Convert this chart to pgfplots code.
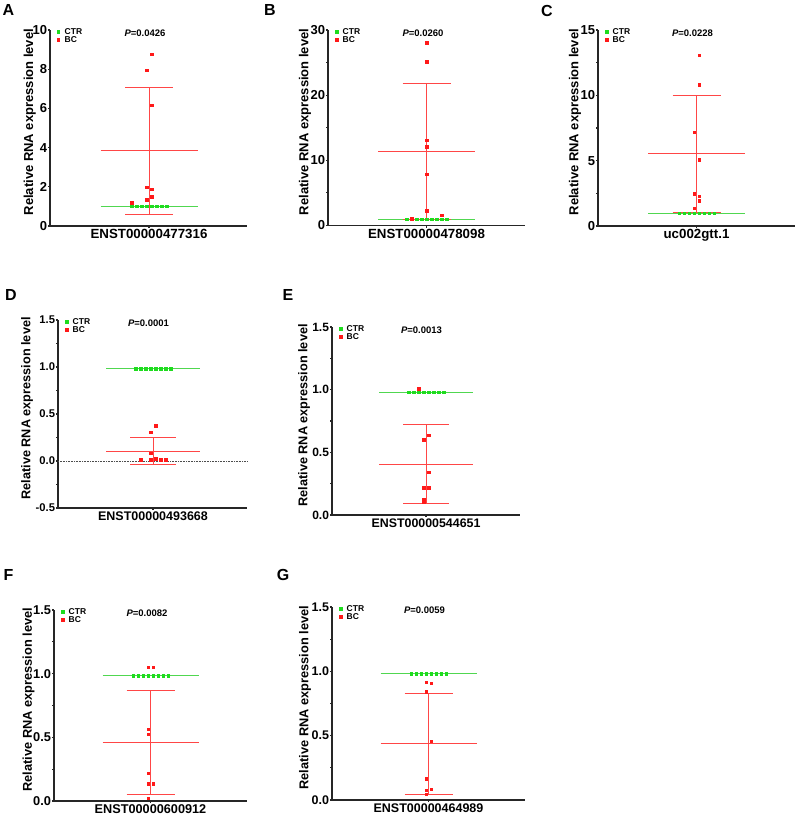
\documentclass[border=0pt]{standalone}
\usepackage{fontspec}
\setmainfont{Liberation Sans}
\usepackage{pgfplots}
\pgfplotsset{compat=1.18}
\definecolor{ctrg}{RGB}{30,220,30}
\definecolor{bcr}{RGB}{255,25,25}
\definecolor{gl}{RGB}{80,215,80}
\definecolor{rl}{RGB}{255,70,70}
\pgfplotsset{
  panel/.style={
    scale only axis, clip=false,
    axis x line=bottom, axis y line=left,
    axis line style={line width=1.2pt, black!85, -},
    every tick/.style={line width=1.1pt, black!85},
    major tick length=2.2pt, minor tick length=1.6pt,
    tick align=outside,
    xmin=0,
    /pgf/number format/assume math mode=true,
    yticklabel style={font=\fontsize{13}{13}\selectfont\bfseries, inner sep=0.6pt},
    xticklabel style={font=\fontsize{13.3}{14}\selectfont\bfseries, inner sep=1pt},
    ylabel={Relative RNA expression level},
    ylabel style={font=\fontsize{13}{14}\selectfont\bfseries, inner sep=0pt, anchor=south},
    legend style={at={(axis description cs:0,1)}, anchor=north west, xshift=7pt, yshift=3pt,
      draw=none, fill=none, font=\fontsize{8.5}{9}\selectfont\bfseries, inner sep=0pt,
      row sep=-1.5pt, nodes={inner sep=1pt},
      /tikz/every odd column/.append style={column sep=4pt}},
    legend cell align=left,
    legend image code/.code={\draw[mark repeat=2,mark phase=2,##1] plot coordinates {(0pt,0pt)(4pt,0pt)(8pt,0pt)};},
  },
  fs/.style n args={3}{
    yticklabel style={font=\fontsize{#1}{#1}\selectfont\bfseries},
    xticklabel style={font=\fontsize{#2}{#2}\selectfont\bfseries},
    ylabel style={font=\fontsize{#3}{#3}\selectfont\bfseries}},
  dec1/.style={yticklabel style={/pgf/number format/fixed, /pgf/number format/fixed zerofill, /pgf/number format/precision=1}},
  ctr/.style={only marks, mark=square*, mark size=1.25pt, color=ctrg},
  bc/.style={only marks, mark=square*, mark size=1.25pt, color=bcr},
  gline/.style={gl, line width=1pt, forget plot},
  rline/.style={rl, line width=1pt, forget plot},
}
\newcommand{\pval}[3]{\node[anchor=north, inner sep=0pt, font=\fontsize{9.5}{10}\selectfont\bfseries] at (axis cs:#1,#2) {\textit{P}=#3};}
\begin{document}
\begin{tikzpicture}
\path (0pt,0pt) rectangle (798pt,-818pt);
\tikzset{lab/.style={font=\fontsize{16}{16}\selectfont\bfseries, inner sep=0pt}}
\node[lab] at (8.5pt,-10.5pt) {A};
\node[lab] at (270pt,-10.5pt) {B};
\node[lab] at (547pt,-10.5pt) {C};
\node[lab] at (11pt,-295pt) {D};
\node[lab] at (288pt,-295pt) {E};
\node[lab] at (8.5pt,-575pt) {F};
\node[lab] at (283pt,-575pt) {G};

% ---------------- A
\begin{axis}[panel, at={(50pt,-226pt)}, anchor=south west, width=197pt, height=196pt,
  xmax=197, ymin=0, ymax=10, ytick={0,2,4,6,8,10},
  xtick={99}, xticklabels={ENST00000477316},
  ylabel style={at={(axis description cs:-0.0711,0.53)}}]
\addplot[gline] coordinates {(50.5,1) (147.5,1)};
\addplot[rline] coordinates {(50.5,3.84) (147.5,3.84)};
\addplot[rline] coordinates {(99,0.61) (99,7.07)};
\addplot[rline] coordinates {(75,7.07) (123,7.07)};
\addplot[rline] coordinates {(75,0.61) (123,0.61)};
\addplot[ctr] coordinates {(81.5,1)(86.5,1)(91.5,1)(96.5,1)(101.5,1)(106.5,1)(111.5,1)(116.5,1)};
\addlegendentry{CTR}
\addplot[bc] coordinates {(101.5,8.76)(96.5,7.96)(101.5,6.17)(96.5,1.97)(101.5,1.87)(101.5,1.50)(96.5,1.33)(81.5,1.19)};
\addlegendentry{BC}
\pval{95}{10}{0.0426}
\end{axis}

% ---------------- B
\begin{axis}[panel, at={(328pt,-225.5pt)}, anchor=south west, width=197pt, height=195.5pt,
  xmax=197, ymin=0, ymax=30, ytick={0,10,20,30}, minor y tick num=1,
  xtick={98.5}, xticklabels={ENST00000478098},
  ylabel style={at={(axis description cs:-0.0848,0.53)}}]
\addplot[gline] coordinates {(50,0.97) (147,0.97)};
\addplot[rline] coordinates {(50,11.37) (147,11.37)};
\addplot[rline] coordinates {(98.5,0.88) (98.5,21.86)};
\addplot[rline] coordinates {(74.5,21.86) (122.5,21.86)};
\addplot[rline] coordinates {(74.5,0.88) (122.5,0.88)};
\addplot[ctr] coordinates {(78.5,0.97)(88.5,0.97)(93.5,0.97)(98.5,0.97)(103.5,0.97)(108.5,0.97)(113.5,0.97)(118.5,0.97)};
\addlegendentry{CTR}
\addplot[bc] coordinates {(98.5,28.06)(98.5,25.14)(98.5,13.06)(98.5,12.08)(98.5,7.89)(98.5,2.30)(113.5,1.59)(83.5,1.02)};
\addlegendentry{BC}
\pval{95}{30}{0.0260}
\end{axis}

% ---------------- C
\begin{axis}[panel, at={(598pt,-226pt)}, anchor=south west, width=197pt, height=196pt,
  xmax=197, ymin=0, ymax=15, ytick={0,5,10,15}, minor y tick num=1,
  xtick={98.5}, xticklabels={uc002gtt.1},
  ylabel style={at={(axis description cs:-0.0848,0.53)}}]
\addplot[gline] coordinates {(50,0.97) (147,0.97)};
\addplot[rline] coordinates {(50,5.53) (147,5.53)};
\addplot[rline] coordinates {(98.5,1.07) (98.5,9.98)};
\addplot[rline] coordinates {(74.5,9.98) (122.5,9.98)};
\addplot[rline] coordinates {(74.5,1.07) (122.5,1.07)};
\addplot[ctr] coordinates {(81,0.97)(86,0.97)(91,0.97)(96,0.97)(101,0.97)(106,0.97)(111,0.97)(116,0.97)};
\addlegendentry{CTR}
\addplot[bc] coordinates {(101,13.08)(101,10.83)(96,7.19)(101,5.09)(96,2.46)(101,2.28)(101,1.95)(96,1.36)};
\addlegendentry{BC}
\pval{94.5}{15}{0.0228}
\end{axis}

% ---------------- D
\begin{axis}[panel, dec1, fs={11.2}{12.5}{12.7}, at={(58pt,-508pt)}, anchor=south west, width=189pt, height=188pt,
  xmin=-1, xmax=188, ymin=-0.5, ymax=1.5, ytick={-0.5,0,0.5,1,1.5}, minor y tick num=1,
  xtick={94}, xticklabels={ENST00000493668},
  ylabel style={at={(axis description cs:-0.1307,0.53)}}]
\addplot[black!70, densely dotted, line width=0.6pt, forget plot] coordinates {(-1,0) (188,0)};
\addplot[gline] coordinates {(47,0.98) (141,0.98)};
\addplot[rline] coordinates {(47,0.103) (141,0.103)};
\addplot[rline] coordinates {(94,-0.042) (94,0.251)};
\addplot[rline] coordinates {(71,0.251) (117,0.251)};
\addplot[rline] coordinates {(71,-0.042) (117,-0.042)};
\addplot[ctr] coordinates {(76.5,0.98)(81.5,0.98)(86.5,0.98)(91.5,0.98)(96.5,0.98)(101.5,0.98)(106.5,0.98)(111.5,0.98)};
\addlegendentry{CTR}
\addplot[bc] coordinates {(96.5,0.375)(91.5,0.304)(91.5,0.081)(96.5,0.025)(81.5,0.014)(91.5,0.014)(101.5,0.014)(106.5,0.014)};
\addlegendentry{BC}
\pval{89.5}{1.5}{0.0001}
\end{axis}

% ---------------- E
\begin{axis}[panel, dec1, fs={12}{12.4}{12.7}, at={(332pt,-515pt)}, anchor=south west, width=188pt, height=188pt,
  xmax=188, ymin=0, ymax=1.5, ytick={0,0.5,1,1.5}, minor y tick num=1,
  xtick={94}, xticklabels={ENST00000544651},
  ylabel style={at={(axis description cs:-0.1154,0.53)}}]
\addplot[gline] coordinates {(47,0.98) (141,0.98)};
\addplot[rline] coordinates {(47,0.406) (141,0.406)};
\addplot[rline] coordinates {(94,0.093) (94,0.722)};
\addplot[rline] coordinates {(71,0.722) (117,0.722)};
\addplot[rline] coordinates {(71,0.093) (117,0.093)};
\addplot[ctr] coordinates {(76.5,0.98)(81.5,0.98)(86.5,0.98)(91.5,0.98)(96.5,0.98)(101.5,0.98)(106.5,0.98)(111.5,0.98)};
\addlegendentry{CTR}
\addplot[bc] coordinates {(86.5,1.006)(96.5,0.637)(91.5,0.600)(96.5,0.340)(91.5,0.218)(96.5,0.218)(91.5,0.125)(91.5,0.101)};
\addlegendentry{BC}
\pval{89.5}{1.5}{0.0013}
\end{axis}

% ---------------- F
\begin{axis}[panel, dec1, fs={12.8}{12.7}{12.8}, at={(54pt,-801pt)}, anchor=south west, width=193pt, height=191pt,
  xmax=193, ymin=0, ymax=1.5, ytick={0,0.5,1,1.5}, minor y tick num=1,
  xtick={96.5}, xticklabels={ENST00000600912},
  ylabel style={at={(axis description cs:-0.1,0.53)}}]
\addplot[gline] coordinates {(48.5,0.986) (144.5,0.986)};
\addplot[rline] coordinates {(48.5,0.462) (144.5,0.462)};
\addplot[rline] coordinates {(96.5,0.055) (96.5,0.868)};
\addplot[rline] coordinates {(72.5,0.868) (120.5,0.868)};
\addplot[rline] coordinates {(72.5,0.055) (120.5,0.055)};
\addplot[ctr] coordinates {(79,0.986)(84,0.986)(89,0.986)(94,0.986)(99,0.986)(104,0.986)(109,0.986)(114,0.986)};
\addlegendentry{CTR}
\addplot[bc] coordinates {(94,1.049)(99,1.049)(94,0.564)(94,0.525)(94,0.220)(94,0.136)(99,0.136)(94,0.024)};
\addlegendentry{BC}
\pval{93}{1.5}{0.0082}
\end{axis}

% ---------------- G
\begin{axis}[panel, dec1, fs={12.5}{12.5}{12.8}, at={(332pt,-800pt)}, anchor=south west, width=193pt, height=193pt,
  xmax=193, ymin=0, ymax=1.5, ytick={0,0.5,1,1.5}, minor y tick num=1,
  xtick={96.5}, xticklabels={ENST00000464989},
  ylabel style={at={(axis description cs:-0.1073,0.53)}}]
\addplot[gline] coordinates {(48.5,0.981) (144.5,0.981)};
\addplot[rline] coordinates {(48.5,0.436) (144.5,0.436)};
\addplot[rline] coordinates {(96.5,0.039) (96.5,0.830)};
\addplot[rline] coordinates {(72.5,0.830) (120.5,0.830)};
\addplot[rline] coordinates {(72.5,0.039) (120.5,0.039)};
\addplot[ctr] coordinates {(79,0.981)(84,0.981)(89,0.981)(94,0.981)(99,0.981)(104,0.981)(109,0.981)(114,0.981)};
\addlegendentry{CTR}
\addplot[bc] coordinates {(94,0.916)(99,0.908)(94,0.841)(99,0.459)(94,0.166)(99,0.083)(94,0.078)(94,0.047)};
\addlegendentry{BC}
\pval{92.5}{1.5}{0.0059}
\end{axis}
\end{tikzpicture}
\end{document}
